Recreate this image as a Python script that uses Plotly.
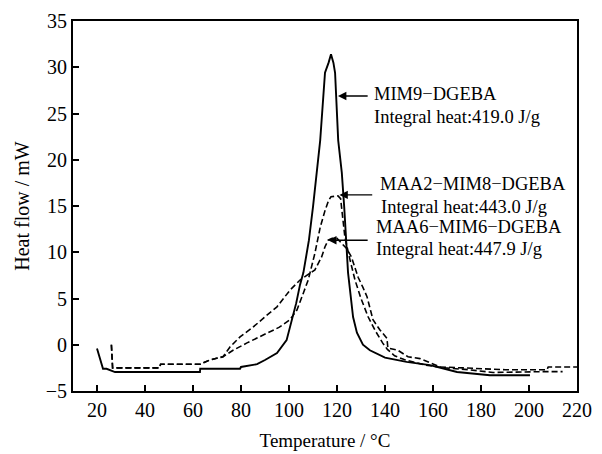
import plotly.graph_objects as go

# MIM9-DGEBA (solid)
mim9_t = [20, 21, 22.5, 24, 27.5, 40, 62.9, 63, 79.6, 80, 86.7, 90, 95, 99, 101.7, 103, 104.6, 106,
          108.3, 110, 113, 115, 116.5, 117.5, 118.5, 119.2, 120.5, 122, 123, 123.8, 124.6, 126.7,
          128.3, 130.8, 133.7, 140, 149, 158.7, 165, 170, 183.7, 200.4]
mim9_q = [-0.4, -1.2, -2.6, -2.6, -2.95, -2.95, -2.95, -2.6, -2.6, -2.4, -2.1, -1.65, -0.9, 0.5, 3.0,
          4.5, 6.5, 7.8, 11.3, 14.9, 22.1, 29.4, 30.5, 31.4, 30.5, 29.4, 22.1, 18.6, 14.9, 11.3, 7.8,
          3.0, 1.3, 0.0, -0.6, -1.4, -1.85, -2.2, -2.6, -2.95, -3.3, -3.3]

# MAA2-MIM8-DGEBA (dashed)
maa2_t = [26, 26.5, 46, 46.5, 63, 67, 72.5, 76.7, 82.5, 90.8, 96, 100.4, 103.3, 106, 108, 110.8,
          113, 115, 116.5, 117.5, 120.4, 121.5, 122.5, 123.3, 125.4, 127.5, 130, 133, 136, 139,
          141, 144, 148, 152, 157, 165, 175, 185, 200, 207, 214]
maa2_q = [0, -2.5, -2.5, -2.1, -2.1, -1.65, -1.3, -0.6, 0.2, 1.3, 1.9, 2.7, 3.75, 5.6, 7.0, 9.9,
          12.7, 14.5, 15.6, 16.0, 16.1, 15.8, 13.5, 11.6, 9.2, 7.0, 5.0, 3.0, 1.5, 0.2, -0.5, -1.2,
          -1.6, -1.9, -2.2, -2.5, -2.7, -3.0, -2.9, -2.9, -2.9]

# MAA6-MIM6-DGEBA (dashed)
maa6_t = [26, 26.5, 46, 46.5, 63, 67, 72.5, 75.4, 79.6, 85, 90.8, 95, 100.4, 104.6, 108, 110.8,
          113.6, 115, 116.3, 118, 120, 122, 124, 126, 128.8, 130.8, 132.5, 135, 137.9, 140.8,
          141.2, 145.4, 149.6, 154.6, 163, 172.5, 190, 207.5, 208, 220]
maa6_q = [0, -2.5, -2.5, -2.1, -2.1, -1.65, -1.3, -0.25, 0.85, 1.9, 3.2, 4.1, 5.9, 7.0, 7.6, 8.1,
          9.5, 10.6, 11.3, 11.5, 11.5, 11.0, 10.4, 9.5, 7.3, 6.2, 5.2, 2.7, 1.6, 0.7, -0.35, -0.6,
          -1.3, -1.5, -2.4, -2.5, -2.7, -2.7, -2.4, -2.4]

x_ticks = [20, 40, 60, 80, 100, 120, 140, 160, 180, 200, 220]
y_ticks = [-5, 0, 5, 10, 15, 20, 25, 30, 35]

labels = ["MIM9−DGEBA", "MAA2−MIM8−DGEBA", "MAA6−MIM6−DGEBA"]
heats = ["Integral heat:419.0 J/g", "Integral heat:443.0 J/g", "Integral heat:447.9 J/g"]
arrow_heads = [(120.4, 26.9), (121.0, 16.2), (116.3, 11.3)]
arrow_tails = [(133.4, 26.9), (135.3, 16.2), (133.4, 11.3)]
label_pos = [(135.0, 27.1), (137.5, 17.4), (135.8, 12.7)]
heat_pos = [(135.0, 24.6), (137.8, 14.9), (135.8, 10.3)]

FONT = "Liberation Serif, Times New Roman, serif"

fig = go.Figure()
fig.add_trace(go.Scatter(x=mim9_t, y=mim9_q, mode="lines", name=labels[0],
                         line=dict(color="black", width=1.9)))
fig.add_trace(go.Scatter(x=maa2_t, y=maa2_q, mode="lines", name=labels[1],
                         line=dict(color="black", width=1.6, dash="6px,3px")))
fig.add_trace(go.Scatter(x=maa6_t, y=maa6_q, mode="lines", name=labels[2],
                         line=dict(color="black", width=1.6, dash="6px,3px")))

for (hx, hy), (tx, ty) in zip(arrow_heads, arrow_tails):
    fig.add_annotation(x=hx, y=hy, ax=tx, ay=ty, xref="x", yref="y", axref="x", ayref="y",
                       text="", showarrow=True, arrowhead=2, arrowsize=1.2, arrowwidth=1.4,
                       arrowcolor="black")
for lab, (lx, ly) in zip(labels, label_pos):
    fig.add_annotation(x=lx, y=ly, xref="x", yref="y", text=lab, showarrow=False, borderpad=0,
                       xanchor="left", yanchor="middle", font=dict(family=FONT, size=18.5, color="black"))
for ht, (lx, ly) in zip(heats, heat_pos):
    fig.add_annotation(x=lx, y=ly, xref="x", yref="y", text=ht, showarrow=False, borderpad=0,
                       xanchor="left", yanchor="middle", font=dict(family=FONT, size=18.5, color="black"))

axis_common = dict(showline=True, linecolor="black", linewidth=2, mirror=True, ticks="inside",
                   ticklen=6, tickwidth=1.5, tickcolor="black", showgrid=False, zeroline=False,
                   automargin=False, tickfont=dict(family=FONT, size=20, color="black"))
fig.update_xaxes(range=[10, 220], tickvals=x_ticks,
                 title=dict(text="Temperature / °C", font=dict(family=FONT, size=19, color="black"),
                            standoff=14), **axis_common)
fig.update_yaxes(range=[-5, 35], tickvals=y_ticks,
                 title=dict(text="Heat flow / mW", font=dict(family=FONT, size=20, color="black"),
                            standoff=11), **axis_common)

# page body adds an 8px offset, so margins are shifted to keep the plot frame in place
fig.update_layout(width=602, height=454, showlegend=False, plot_bgcolor="white",
                  paper_bgcolor="white", margin=dict(l=65, r=33, t=13, b=71))
fig.write_html("out.html")
